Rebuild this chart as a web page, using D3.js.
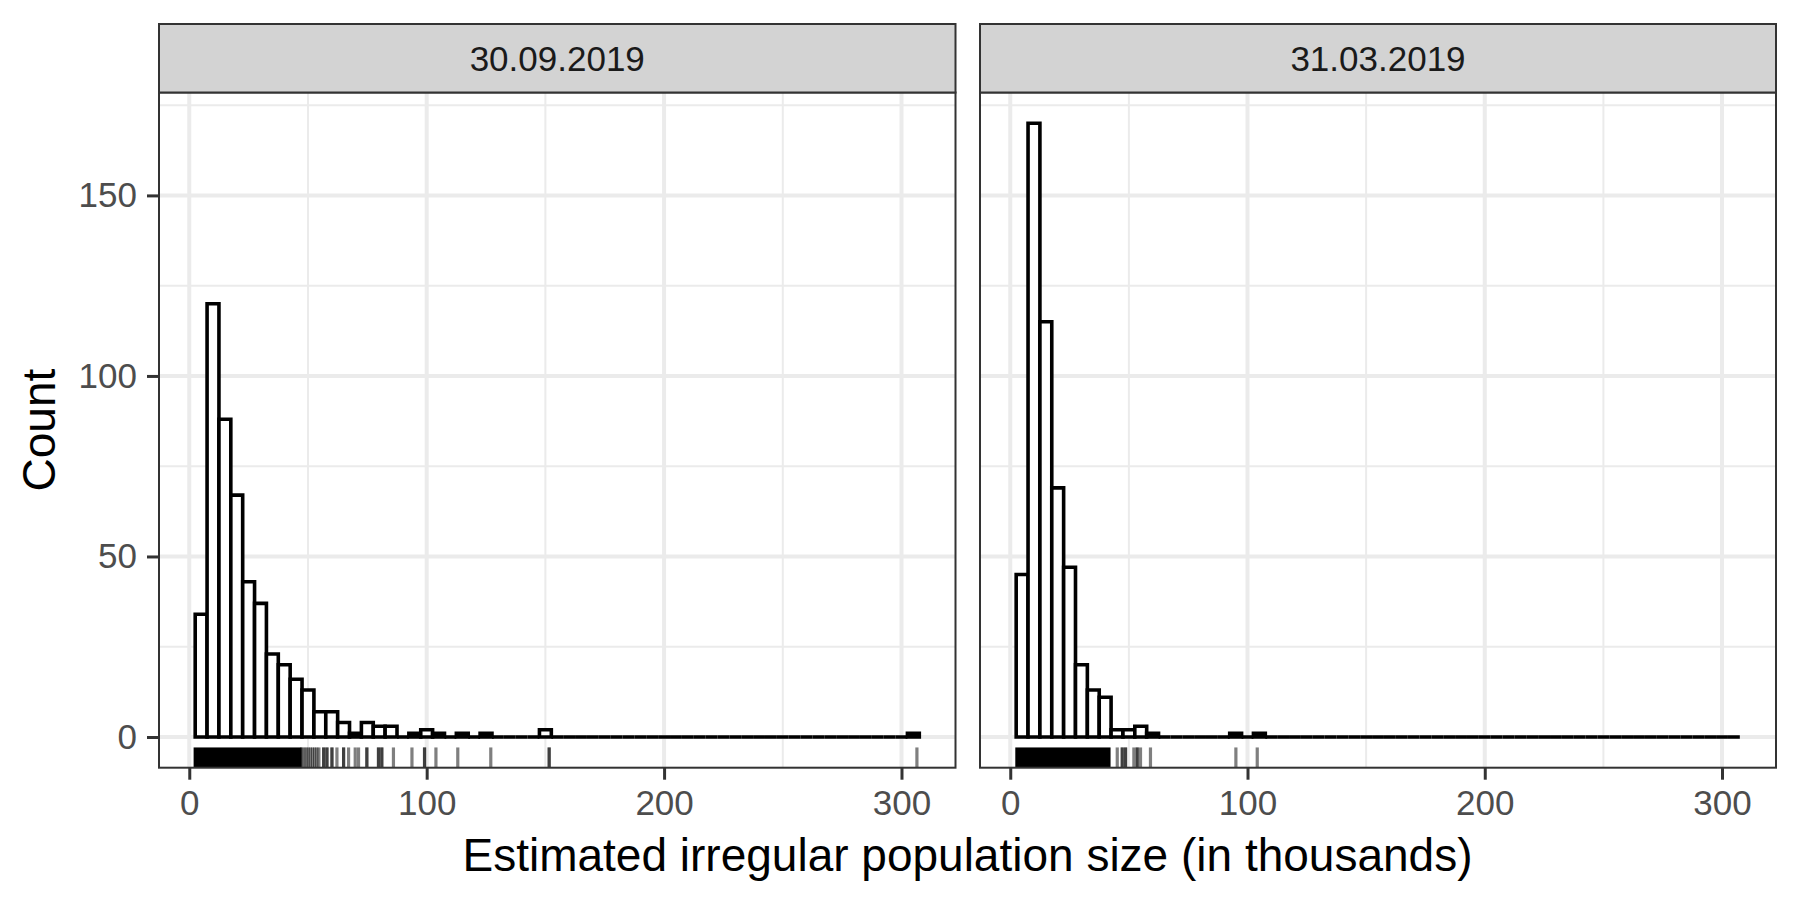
<!DOCTYPE html>
<html>
<head>
<meta charset="utf-8">
<script src="https://cdn.jsdelivr.net/npm/d3@7"></script>
<style>
    body { margin: 0; background: #ffffff; }
    text { font-family: "Liberation Sans", Arial, Helvetica, sans-serif; }
</style>
</head>
<body>
<div id="chart"></div>
<script>
// facet labels
var panelLabels = ["30.09.2019", "31.03.2019"];

// histogram bins (centre of each 5k wide bin)
var binCenters = d3.range(5, 306, 5);
var binWidth = 5;

// counts per bin
var countsSep = [34, 120, 88, 67, 43, 37, 23, 20, 16, 13, 7, 7, 4, 1, 4, 3, 3, 0, 1, 2,
    1, 0, 1, 0, 1, 0, 0, 0, 0, 2,
    0, 0, 0, 0, 0, 0, 0, 0, 0, 0, 0, 0, 0, 0, 0, 0, 0, 0, 0, 0,
    0, 0, 0, 0, 0, 0, 0, 0, 0, 0,
    1];
var countsMar = [45, 170, 115, 69, 47, 20, 13, 11, 2, 2, 3, 1, 0, 0, 0, 0, 0, 0, 1, 0,
    1, 0, 0, 0, 0, 0, 0, 0, 0, 0,
    0, 0, 0, 0, 0, 0, 0, 0, 0, 0, 0, 0, 0, 0, 0, 0, 0, 0, 0, 0,
    0, 0, 0, 0, 0, 0, 0, 0, 0, 0,
    0];

// rug: solid stretches where the ticks merge, then single ticks
var rugBandsSep = [[2.5, 46.7]];
var rugTicksSep = [47.4, 48.3, 49.2, 50.1, 51.0, 51.9, 52.8, 53.7, 54.6,
    56.6, 56.6, 58, 58, 60.1, 60.1, 62.2, 65, 65, 67.1, 69.9, 71.3, 74.8, 74.8,
    79.7, 79.7, 81.1, 81.1, 86, 93.8, 99.1, 99.1, 103.9, 113.1, 127, 151.6, 151.6, 306.5];
var rugBandsMar = [[2.8, 41.6]];
var rugTicksMar = [45.1, 47.2, 47.2, 48.6, 48.6, 52.1, 53.5, 53.5, 54.9, 59.1, 95.1, 104.1];

var xTicks = [0, 100, 200, 300];
var xMinor = [50, 150, 250];
var yTicks = [0, 50, 100, 150];
var yMinor = [25, 75, 125, 175];

var width = 1800;
var height = 900;
var stripTop = 24;
var panelTop = 92.5;
var panelBottom = 767.7;
var panelX = [[159, 955.5], [980, 1776]];

var svg = d3.select("#chart").append("svg")
    .attr("width", width)
    .attr("height", height);

var yScale = d3.scaleLinear()
    .domain([-8.5, 178.5])
    .range([panelBottom, panelTop]);

var panels = [
    { label: panelLabels[0], counts: countsSep, bands: rugBandsSep, ticks: rugTicksSep },
    { label: panelLabels[1], counts: countsMar, bands: rugBandsMar, ticks: rugTicksMar }
];

panels.forEach(function (p, i) {
    var x0 = panelX[i][0], x1 = panelX[i][1];
    var xScale = d3.scaleLinear()
        .domain([-12.75, 322.75])
        .range([x0, x1]);

    var g = svg.append("g");

    // grid
    g.selectAll(".ymin").data(yMinor).enter().append("line")
        .attr("x1", x0).attr("x2", x1)
        .attr("y1", d => yScale(d)).attr("y2", d => yScale(d))
        .attr("stroke", "#ebebeb").attr("stroke-width", 2);
    g.selectAll(".xmin").data(xMinor).enter().append("line")
        .attr("x1", d => xScale(d)).attr("x2", d => xScale(d))
        .attr("y1", panelTop).attr("y2", panelBottom)
        .attr("stroke", "#ebebeb").attr("stroke-width", 2);
    g.selectAll(".ymaj").data(yTicks).enter().append("line")
        .attr("x1", x0).attr("x2", x1)
        .attr("y1", d => yScale(d)).attr("y2", d => yScale(d))
        .attr("stroke", "#ebebeb").attr("stroke-width", 4);
    g.selectAll(".xmaj").data(xTicks).enter().append("line")
        .attr("x1", d => xScale(d)).attr("x2", d => xScale(d))
        .attr("y1", panelTop).attr("y2", panelBottom)
        .attr("stroke", "#ebebeb").attr("stroke-width", 4);

    // histogram bars as paths so that empty bins still draw a line
    var bins = binCenters.map(function (c, k) {
        return { x0: c - binWidth / 2, x1: c + binWidth / 2, n: p.counts[k] };
    });
    g.selectAll(".bar").data(bins).enter().append("path")
        .attr("d", function (d) {
            var a = xScale(d.x0), b = xScale(d.x1), y0 = yScale(0), y1 = yScale(d.n);
            return "M" + a + "," + y0 + "H" + b + "V" + y1 + "H" + a + "Z";
        })
        .attr("fill", "#ffffff")
        .attr("stroke", "#000000")
        .attr("stroke-width", 3.6)
        .attr("stroke-linejoin", "miter");

    // rug
    var rugLen = (panelBottom - panelTop) * 0.03;
    g.selectAll(".band").data(p.bands).enter().append("rect")
        .attr("x", d => xScale(d[0]) - 1.6)
        .attr("width", d => xScale(d[1]) - xScale(d[0]) + 3.2)
        .attr("y", panelBottom - rugLen)
        .attr("height", rugLen)
        .attr("fill", "#000000");
    g.selectAll(".rug").data(p.ticks).enter().append("line")
        .attr("x1", d => xScale(d)).attr("x2", d => xScale(d))
        .attr("y1", panelBottom - rugLen).attr("y2", panelBottom)
        .attr("stroke", "#000000")
        .attr("stroke-opacity", 0.5)
        .attr("stroke-width", 3.2);

    // panel border
    g.append("rect")
        .attr("x", x0).attr("y", panelTop)
        .attr("width", x1 - x0).attr("height", panelBottom - panelTop)
        .attr("fill", "none").attr("stroke", "#333333").attr("stroke-width", 2);

    // strip
    g.append("rect")
        .attr("x", x0).attr("y", stripTop)
        .attr("width", x1 - x0).attr("height", panelTop - stripTop)
        .attr("fill", "#d3d3d3").attr("stroke", "#333333").attr("stroke-width", 2);
    g.append("text")
        .attr("x", (x0 + x1) / 2)
        .attr("y", (stripTop + panelTop) / 2)
        .attr("dy", "0.36em")
        .attr("text-anchor", "middle")
        .attr("font-size", 35)
        .attr("fill", "#1a1a1a")
        .text(p.label);

    // x axis
    var xAxis = g.append("g")
        .attr("transform", "translate(0," + panelBottom + ")")
        .call(d3.axisBottom(xScale).tickValues(xTicks).tickSize(12).tickPadding(10));
    xAxis.select(".domain").remove();
    xAxis.selectAll(".tick line").attr("stroke", "#333333").attr("stroke-width", 3);
    xAxis.selectAll(".tick text")
        .attr("fill", "#4d4d4d")
        .attr("font-size", 35)
        .attr("font-family", "Liberation Sans, Arial, sans-serif");

    if (i === 0) {
        var yAxis = g.append("g")
            .attr("transform", "translate(" + x0 + ",0)")
            .call(d3.axisLeft(yScale).tickValues(yTicks).tickSize(12).tickPadding(10));
        yAxis.select(".domain").remove();
        yAxis.selectAll(".tick line").attr("stroke", "#333333").attr("stroke-width", 3);
        yAxis.selectAll(".tick text")
            .attr("fill", "#4d4d4d")
            .attr("font-size", 35)
            .attr("font-family", "Liberation Sans, Arial, sans-serif");
    }
});

// axis titles
svg.append("text")
    .attr("transform", "translate(55," + ((panelTop + panelBottom) / 2) + ") rotate(-90)")
    .attr("text-anchor", "middle")
    .attr("font-size", 46)
    .attr("fill", "#000000")
    .text("Count");

svg.append("text")
    .attr("x", (panelX[0][0] + panelX[1][1]) / 2)
    .attr("y", 871)
    .attr("text-anchor", "middle")
    .attr("font-size", 46)
    .attr("fill", "#000000")
    .text("Estimated irregular population size (in thousands)");
</script>
</body>
</html>
